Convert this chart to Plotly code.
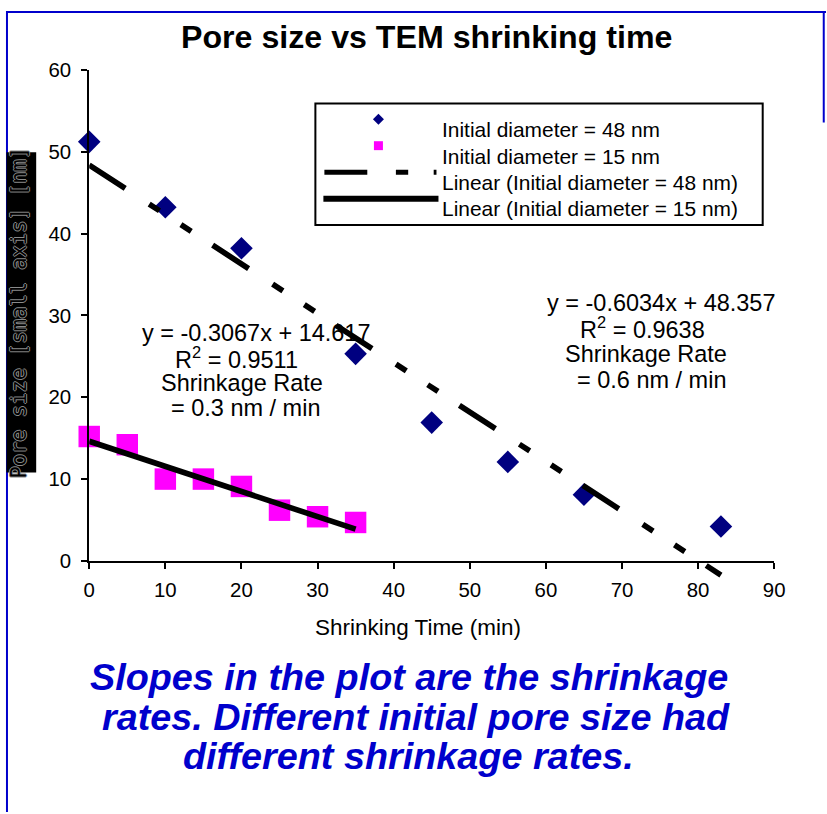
import plotly.graph_objects as go

# ---------------- data ----------------
t_48 = [0, 10, 20, 35, 45, 55, 65, 83]
d_48 = [51.2, 43.2, 38.2, 25.3, 16.9, 12.1, 8.1, 4.2]
t_15 = [0, 5, 10, 15, 20, 25, 30, 35]
d_15 = [15.2, 14.2, 10.0, 10.0, 9.1, 6.2, 5.4, 4.7]

slope_48, icpt_48, r2_48 = -0.6034, 48.357, 0.9638
slope_15, icpt_15, r2_15 = -0.3067, 14.617, 0.9511

x_ticks = [0, 10, 20, 30, 40, 50, 60, 70, 80, 90]
y_ticks = [0, 10, 20, 30, 40, 50, 60]

# ---------------- geometry helpers ----------------
# Observed page transform: screen = K * (figure + 8)  (body margin + zoom)
K, OFF = 0.979, 8
W = round(827 / K - OFF)
H = round(814 / K - OFF)
S = 1 / K               # size compensation

XL, XR = 91, 775.5      # screen x of x=0 and x=90
YB, YT = 561, 67        # screen y of y=0 and y=60
YB2 = 584               # lower edge of the (invisible) trend-line subplot


def fx(s):
    return s / K - OFF


def px(s):
    return min(max(fx(s) / W, 0), 1)


def py(s):
    return min(max(1 - fx(s) / H, 0), 1)


ppu = (YB - YT) / 60.0
y2_low = -(YB2 - YB) / ppu

FONT = "Liberation Sans, Arial, sans-serif"
DASH = ",".join(f"{v * S:.1f}px" for v in [42, 28, 12, 25, 12, 25])

fig = go.Figure()

# data markers
fig.add_trace(go.Scatter(
    x=t_48, y=d_48, mode="markers", name="Initial diameter = 48 nm",
    marker=dict(symbol="diamond", size=17 * S, color="#000080"),
    cliponaxis=False, xaxis="x", yaxis="y"))
fig.add_trace(go.Scatter(
    x=t_15, y=d_15, mode="markers", name="Initial diameter = 15 nm",
    marker=dict(symbol="square", size=21 * S, color="#FF00FF"),
    cliponaxis=False, xaxis="x", yaxis="y"))

# trend lines (from the fitted equations shown on the chart)
tx48 = [min(t_48), max(t_48)]
fig.add_trace(go.Scatter(
    x=tx48, y=[slope_48 * v + icpt_48 for v in tx48], mode="lines",
    name="Linear (Initial diameter = 48 nm)",
    line=dict(color="black", width=5.5 * S, dash=DASH),
    xaxis="x", yaxis="y2"))
tx15 = [min(t_15), max(t_15)]
fig.add_trace(go.Scatter(
    x=tx15, y=[slope_15 * v + icpt_15 for v in tx15], mode="lines",
    name="Linear (Initial diameter = 15 nm)",
    line=dict(color="black", width=5.5 * S),
    xaxis="x", yaxis="y2"))

axis_common = dict(showgrid=False, zeroline=False, showline=True,
                   linecolor="black", linewidth=2, ticks="outside",
                   ticklen=6, tickwidth=2, tickcolor="black",
                   tickfont=dict(family=FONT, size=20 * S, color="black"))

fig.update_layout(
    width=W, height=H,
    margin=dict(l=0, r=0, t=0, b=0),
    paper_bgcolor="white", plot_bgcolor="rgba(0,0,0,0)",
    showlegend=False,
    xaxis=dict(domain=[px(XL), px(XR)], range=[0, 90], tickvals=x_ticks,
               anchor="y", ticklabelstandoff=4, **axis_common),
    yaxis=dict(domain=[py(YB), py(YT)], range=[0, 60], tickvals=y_ticks,
               anchor="x", ticklabelstandoff=6, **axis_common),
    yaxis2=dict(domain=[py(YB2), py(YT)], range=[y2_low, 60], visible=False,
                anchor="x", showgrid=False, zeroline=False),
)

shapes = []
# page frame (blue)
frame = "#0000CC"
shapes.append(dict(type="line", xref="paper", yref="paper", x0=1 / W, x1=1 / W,
                   y0=0, y1=1, line=dict(color=frame, width=2)))
shapes.append(dict(type="line", xref="paper", yref="paper", x0=0, x1=1,
                   y0=1 - 1 / H, y1=1 - 1 / H, line=dict(color=frame, width=2)))
shapes.append(dict(type="line", xref="paper", yref="paper", x0=px(825), x1=px(825),
                   y0=1, y1=py(120), line=dict(color=frame, width=2)))

# y-axis title box (black)
shapes.append(dict(type="rect", xref="paper", yref="paper", x0=0.5 / W, x1=px(38),
                   y0=py(472), y1=py(150), fillcolor="black", line=dict(width=0)))

# custom legend
shapes.append(dict(type="rect", xref="paper", yref="paper", x0=px(317), x1=px(764),
                   y0=py(223), y1=py(101), line=dict(color="black", width=2),
                   fillcolor="white", layer="below"))
cx, cy, r = 380, 116.7, 5.5
shapes.append(dict(type="path", xref="paper", yref="paper",
                   path=f"M{px(cx - r)},{py(cy)} L{px(cx)},{py(cy - r)} L{px(cx + r)},{py(cy)} L{px(cx)},{py(cy + r)} Z",
                   fillcolor="#000080", line=dict(width=0)))
cx, cy, r = 380, 143.3, 4.5
shapes.append(dict(type="rect", xref="paper", yref="paper", x0=px(cx - r), x1=px(cx + r),
                   y0=py(cy + r), y1=py(cy - r), fillcolor="#FF00FF", line=dict(width=0)))
shapes.append(dict(type="line", xref="paper", yref="paper", x0=px(326), x1=px(438),
                   y0=py(170), y1=py(170), line=dict(color="black", width=5 * S, dash=DASH)))
shapes.append(dict(type="line", xref="paper", yref="paper", x0=px(325), x1=px(440),
                   y0=py(196.7), y1=py(196.7), line=dict(color="black", width=6 * S)))
fig.update_layout(shapes=shapes)

ann = []


def text(x, y, s, size, color="black", anchor="center", **fontkw):
    ann.append(dict(x=px(x), y=py(y), xref="paper", yref="paper", text=s,
                    showarrow=False, xanchor=anchor, yanchor="middle",
                    font=dict(family=FONT, size=size * S, color=color, **fontkw)))


# title
text(428, 34, "Pore size vs TEM shrinking time", 31.5, weight="bold")
# x-axis title
text(420, 628, "Shrinking Time (min)", 22)

# legend labels
leg_labels = ["Initial diameter = 48 nm", "Initial diameter = 15 nm",
              "Linear (Initial diameter = 48 nm)", "Linear (Initial diameter = 15 nm)"]
for lab, yy in zip(leg_labels, [126.7, 154, 180.7, 206]):
    text(442, yy, lab, 20.5, anchor="left")

# trendline equations
eq15 = [f"y = {slope_15}x + {icpt_15}", f"R<sup>2</sup> = {r2_15}", "Shrinkage Rate",
        f"= {abs(round(slope_15, 1))} nm / min"]
for s, (xx, yy) in zip(eq15, [(258, 331.7), (238, 356.7), (244, 381.7), (247.5, 407)]):
    text(xx, yy, s, 23)
eq48 = [f"y = {slope_48}x + {icpt_48}", f"R<sup>2</sup> = {r2_48}", "Shrinkage Rate",
        f"= {abs(round(slope_48, 1))} nm / min"]
for s, (xx, yy) in zip(eq48, [(662.5, 301.7), (644, 326.7), (647, 353.3), (653, 379)]):
    text(xx, yy, s, 23)

# y-axis title (rotated, outlined look)
ann.append(dict(x=px(21), y=py(311), xref="paper", yref="paper",
                text="Pore size [small axis] [nm]", showarrow=False, textangle=-90,
                xanchor="center", yanchor="middle",
                font=dict(family="DejaVu Sans Mono, monospace", size=20 * S, color="black",
                          shadow="1px 0 0 #8a8a8a, -1px 0 0 #8a8a8a, 0 1px 0 #8a8a8a, 0 -1px 0 #8a8a8a")))

# bottom message
blue = "#0000CC"
for s, (xx, yy) in zip(["Slopes in the plot are the shrinkage",
                        "rates. Different initial pore size had",
                        "different shrinkage rates."],
                       [(411, 678), (418, 718), (410, 757)]):
    text(xx, yy, s, 37, color=blue, weight="bold", style="italic")

fig.update_layout(annotations=ann)

fig.write_html("out.html")
